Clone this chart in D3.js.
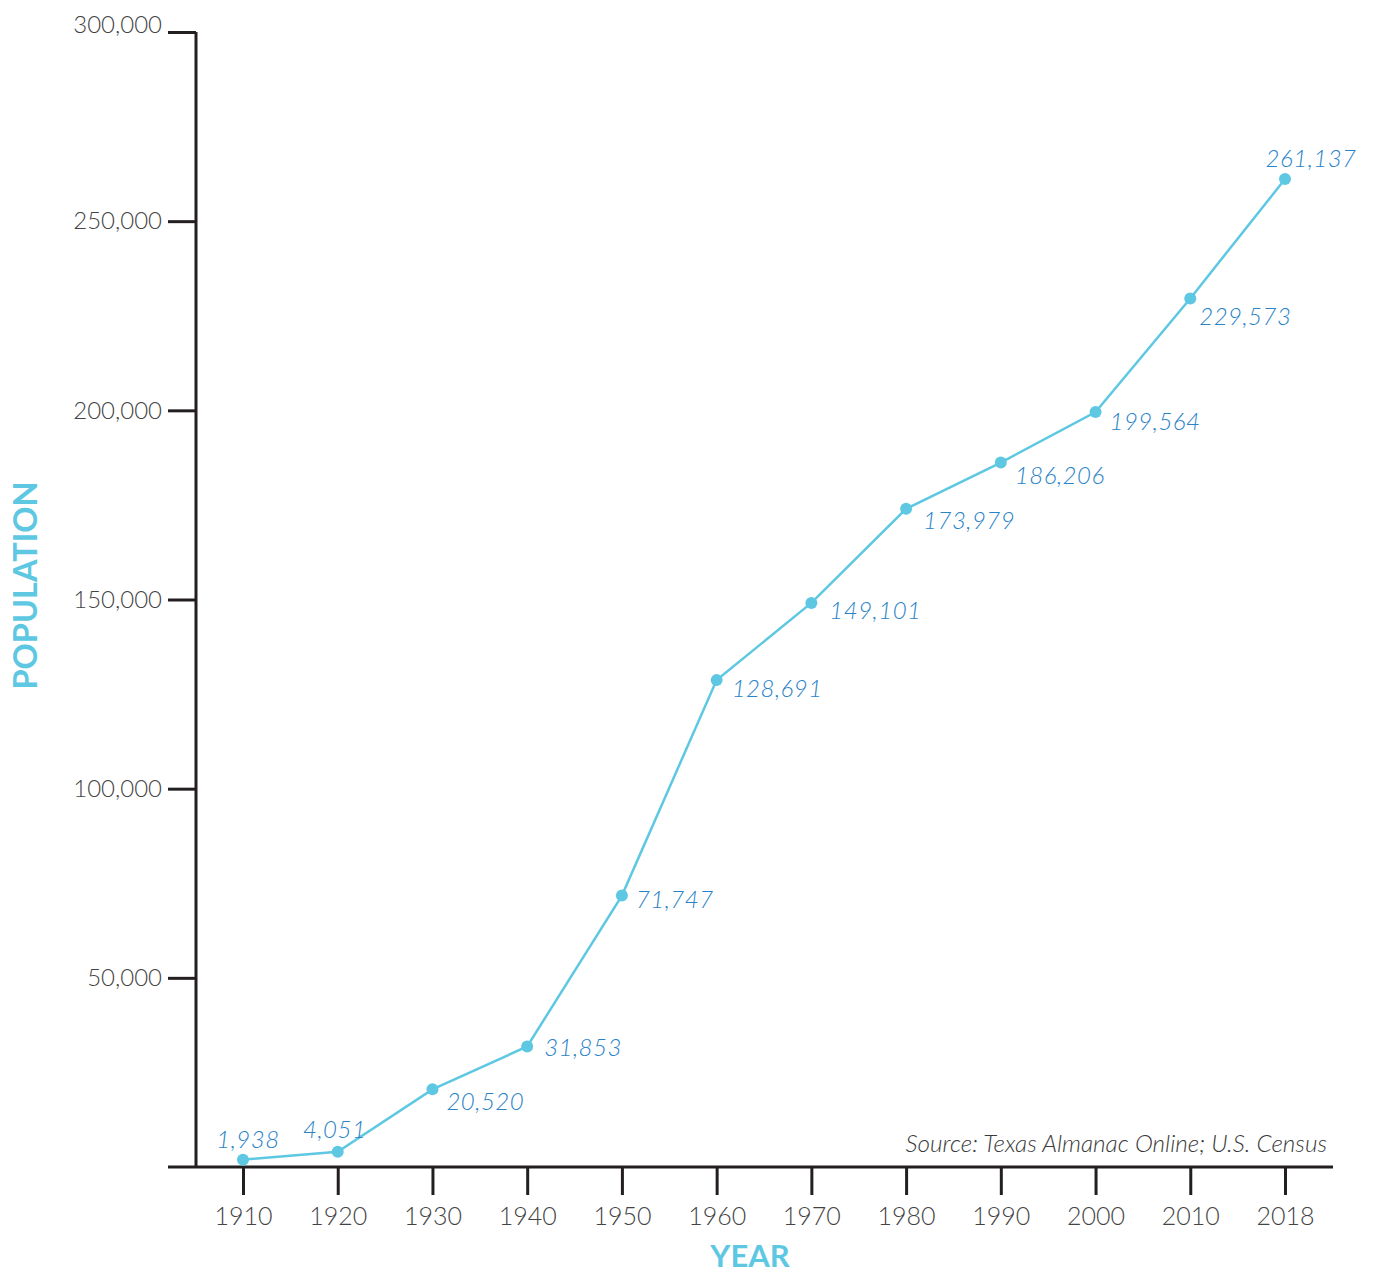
<!DOCTYPE html>
<html>
<head>
<meta charset="utf-8">
<script src="https://cdn.jsdelivr.net/npm/d3@7"></script>
<style>
  html, body { margin: 0; padding: 0; background: #fff; }
  svg { display: block; font-family: Lato, "Open Sans", sans-serif; }
</style>
</head>
<body>
<svg id="chart" width="1374" height="1273"></svg>
<script>
// Population by census year
const years = ["1910", "1920", "1930", "1940", "1950", "1960", "1970", "1980", "1990", "2000", "2010", "2018"];
const population = [1938, 4051, 20520, 31853, 71747, 128691, 149101, 173979, 186206, 199564, 229573, 261137];
const yTicks = [50000, 100000, 150000, 200000, 250000, 300000];

// value-label nudges from each dot (first two and last sit centred above)
const labelDx = [5, -3, 14, 17, 14, 15, 18, 17, 14, 14, 9, 26];
const labelDy = [-12, -14, 21, 10, 12, 17, 16, 20, 21, 18, 27, -12];
const labelAnchor = ["middle", "middle", "start", "start", "start", "start", "start", "start", "start", "start", "start", "middle"];

const data = years.map((y, i) => ({ year: y, value: population[i], dx: labelDx[i], dy: labelDy[i], anchor: labelAnchor[i] }));

const svg = d3.select("#chart");
const plotLeft = 196, plotRight = 1333, plotTop = 32, plotBottom = 1167;
const axisColor = "#231f20";
const lineColor = "#5ec8e3";
const labelColor = "#2a83c7";
const tickColor = "#444";

const x = d3.scalePoint().domain(years).range([243, 1285]);
const y = d3.scaleLinear().domain([0, 300000]).range([plotBottom, plotTop]);
const fmt = d3.format(",");

// y axis
const yAxis = svg.append("g").attr("transform", `translate(${plotLeft},0)`)
  .call(d3.axisLeft(y).tickValues(yTicks).tickSize(28).tickPadding(6).tickFormat(fmt));
yAxis.select(".domain").attr("d", `M0,${plotTop}V${plotBottom}`);

// x axis
const xAxis = svg.append("g").attr("transform", `translate(0,${plotBottom})`)
  .call(d3.axisBottom(x).tickSize(28));
xAxis.select(".domain").attr("d", `M168,0H${plotRight}`);

svg.selectAll(".domain, .tick line")
  .attr("stroke", axisColor).attr("stroke-width", 3);
svg.selectAll(".tick text")
  .attr("fill", tickColor).style("font-weight", 300)
  .style("font-family", "Lato, sans-serif");
yAxis.selectAll(".tick text").style("font-size", "24px");
// the top label rides slightly above its tick
yAxis.selectAll(".tick").filter(d => d === 300000).select("text").attr("y", -7);
xAxis.selectAll(".tick text").style("font-size", "25px")
  .attr("y", 58).attr("dy", 0);

// line and points
svg.append("path").datum(data)
  .attr("fill", "none").attr("stroke", lineColor).attr("stroke-width", 2.5)
  .attr("d", d3.line().x(d => x(d.year)).y(d => y(d.value)));

svg.append("g").selectAll("circle").data(data).join("circle")
  .attr("cx", d => x(d.year)).attr("cy", d => y(d.value)).attr("r", 6)
  .attr("fill", lineColor);

// value labels
svg.append("g").selectAll("text").data(data).join("text")
  .attr("x", d => x(d.year) + d.dx)
  .attr("y", d => y(d.value) + d.dy)
  .attr("text-anchor", d => d.anchor)
  .attr("fill", labelColor)
  .style("font-size", "24px").style("font-style", "italic").style("font-weight", 300)
  .style("letter-spacing", "0.5px")
  .text(d => fmt(d.value));

// axis titles
svg.append("text")
  .attr("transform", `translate(37,${(483 + 688) / 2}) rotate(-90)`)
  .attr("text-anchor", "middle").attr("fill", lineColor)
  .style("font-size", "32.5px").style("font-weight", 700)
  .text("POPULATION");

svg.append("text")
  .attr("x", 750).attr("y", 1267)
  .attr("text-anchor", "middle").attr("fill", lineColor)
  .style("font-size", "31px").style("font-weight", 700)
  .text("YEAR");

// source note
svg.append("text")
  .attr("x", 1327).attr("y", 1152)
  .attr("text-anchor", "end").attr("fill", "#3a3a3a")
  .style("font-size", "24.3px").style("font-style", "italic").style("font-weight", 300)
  .text("Source: Texas Almanac Online; U.S. Census");
</script>
</body>
</html>
